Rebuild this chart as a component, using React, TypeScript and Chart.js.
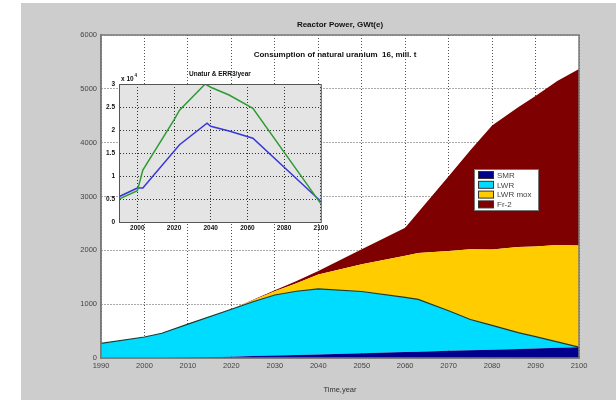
import React, { useEffect, useRef } from 'react';
import { Chart, registerables } from 'chart.js';
Chart.register(...registerables);

// ---- Main chart data (GWt(e)) ----
const years = [1990, 2000, 2004, 2010, 2020, 2025, 2030, 2035, 2040, 2050, 2060, 2063, 2070, 2075, 2080, 2086, 2090, 2095, 2100];
const smr = [0, 0, 0, 3, 25, 35, 45, 55, 65, 88, 110, 117, 133, 144, 155, 169, 178, 189, 200];
const lwr = [270, 390, 460, 627, 880, 1010, 1125, 1185, 1220, 1147, 1015, 973, 744, 572, 452, 301, 218, 111, 0];
const lwrMox = [0, 0, 0, 0, 0, 30, 70, 150, 265, 505, 775, 860, 1110, 1302, 1410, 1590, 1675, 1800, 1890];
const fr2 = [0, 0, 0, 0, 0, 5, 20, 40, 65, 280, 520, 758, 1390, 1842, 2300, 2600, 2795, 3045, 3280];
const seriesLabels = ['SMR', 'LWR', 'LWR mox', 'Fr-2'];
const seriesColors = ['#00008c', '#00dcff', '#ffcc00', '#7f0000'];
const mainTitle = 'Reactor Power, GWt(e)';
const subTitle = 'Consumption of natural uranium  16, mill. t';
const xTitle = 'Time,year';

// ---- Inset data (x 10^4 t / year) ----
const unaturYears = [1990, 2000, 2003, 2020, 2023, 2037, 2040, 2050, 2063, 2100];
const unatur = [0.5, 0.68, 1.13, 2.22, 2.43, 3.0, 2.93, 2.76, 2.47, 0.4];
const err3Years = [1990, 2000, 2003, 2023, 2038, 2040, 2050, 2063, 2100];
const err3 = [0.55, 0.74, 0.74, 1.68, 2.15, 2.08, 1.98, 1.82, 0.45];
const insetTitle = 'Unatur & ERR3/year';
const insetXTicks = [2000, 2020, 2040, 2060, 2080, 2100];
const insetYTicks = [0, 0.5, 1, 1.5, 2, 2.5, 3];

const FONT = '"Liberation Sans", Arial, sans-serif';

const toPts = (xs: number[], ys: number[]) => xs.map((x, i) => ({ x, y: ys[i] }));
const plain = (v: any) => String(v);

export default function App() {
  const mainRef = useRef<HTMLCanvasElement>(null);
  const insetRef = useRef<HTMLCanvasElement>(null);

  useEffect(() => {
    const mainPlugin = {
      id: 'mainDecor',
      beforeDraw(chart: any) {
        const { ctx, chartArea: a } = chart;
        ctx.save();
        ctx.fillStyle = '#ffffff';
        ctx.fillRect(a.left, a.top, a.right - a.left, a.bottom - a.top);
        ctx.restore();
      },
      afterDraw(chart: any) {
        const { ctx, chartArea: a } = chart;
        ctx.save();
        ctx.strokeStyle = '#7a7a7a';
        ctx.lineWidth = 1.5;
        ctx.strokeRect(a.left, a.top, a.right - a.left, a.bottom - a.top);
        ctx.fillStyle = '#111';
        ctx.font = `bold 8px ${FONT}`;
        ctx.textAlign = 'center';
        ctx.textBaseline = 'middle';
        ctx.fillText(subTitle, (a.left + a.right) / 2 - 5, a.top + 20);
        // legend
        const x0 = a.right - 105;
        const y0 = a.top + 134;
        ctx.fillStyle = '#ffffff';
        ctx.fillRect(x0, y0, 64, 41);
        ctx.strokeStyle = '#777';
        ctx.lineWidth = 1;
        ctx.strokeRect(x0 + 0.5, y0 + 0.5, 64, 41);
        ctx.textAlign = 'left';
        ctx.font = `8px ${FONT}`;
        chart.data.datasets.forEach((ds: any, i: number) => {
          const y = y0 + 6 + i * 9.8;
          ctx.fillStyle = ds.backgroundColor;
          ctx.fillRect(x0 + 4, y - 3.5, 15, 7);
          ctx.strokeStyle = '#333';
          ctx.strokeRect(x0 + 4.5, y - 3.5, 15, 7);
          ctx.fillStyle = '#444';
          ctx.fillText(ds.label, x0 + 23, y + 0.5);
        });
        ctx.restore();
      },
    };

    const series = [smr, lwr, lwrMox, fr2];
    const main = new Chart(mainRef.current!, {
      type: 'line',
      data: {
        datasets: series.map((vals, i) => ({
          label: seriesLabels[i],
          data: toPts(years, vals),
          backgroundColor: seriesColors[i],
          borderColor: i === 1 ? '#203a30' : seriesColors[i],
          borderWidth: i === 1 ? 1.2 : 0,
          fill: i === 0 ? 'origin' : '-1',
          pointRadius: 0,
          tension: 0,
        })),
      },
      options: {
        animation: false,
        responsive: false,
        layout: { padding: { left: 0, right: 37, top: 0, bottom: 0 } },
        plugins: {
          legend: { display: false },
          tooltip: { enabled: false },
          title: {
            display: true,
            text: mainTitle,
            fullSize: false,
            color: '#111',
            font: { family: FONT, size: 8, weight: 'bold' },
            padding: { top: 20, bottom: 5.4 },
          },
        },
        scales: {
          x: {
            type: 'linear',
            min: 1990,
            max: 2100,
            ticks: { stepSize: 10, callback: plain, color: '#444', font: { family: FONT, size: 7.5 }, padding: 3, maxRotation: 0, autoSkip: false },
            grid: { color: '#555', drawTicks: false, lineWidth: 1 },
            border: { display: true, color: '#7a7a7a', width: 1.5, dash: [1, 2] },
            title: { display: true, text: xTitle, color: '#333', font: { family: FONT, size: 7.5 }, padding: { top: 10, bottom: 5.5 } },
            afterFit: (s: any) => { s.height = 42; },
          },
          y: {
            stacked: true,
            min: 0,
            max: 6000,
            ticks: { stepSize: 1000, callback: plain, color: '#444', font: { family: FONT, size: 7.5 }, padding: 4 },
            grid: { color: '#555', drawTicks: false, lineWidth: 1 },
            border: { display: true, color: '#7a7a7a', width: 1.5, dash: [1, 2] },
            afterFit: (s: any) => { s.width = 101; },
          },
        },
      },
      plugins: [mainPlugin],
    });

    const insetPlugin = {
      id: 'insetDecor',
      beforeDraw(chart: any) {
        const { ctx, chartArea: a } = chart;
        ctx.save();
        ctx.fillStyle = '#e4e4e4';
        ctx.fillRect(a.left, a.top, a.right - a.left, a.bottom - a.top);
        ctx.restore();
      },
      afterDraw(chart: any) {
        const { ctx, chartArea: a } = chart;
        ctx.save();
        ctx.strokeStyle = '#555';
        ctx.lineWidth = 1;
        ctx.strokeRect(a.left + 0.5, a.top + 0.5, a.right - a.left, a.bottom - a.top);
        ctx.fillStyle = '#111';
        ctx.font = `bold 6.5px ${FONT}`;
        ctx.textAlign = 'center';
        ctx.textBaseline = 'middle';
        ctx.fillText(insetTitle, (a.left + a.right) / 2, a.top - 10);
        ctx.textAlign = 'left';
        ctx.fillText('x 10', a.left + 2, a.top - 5);
        ctx.font = `bold 4.5px ${FONT}`;
        ctx.fillText('4', a.left + 15.5, a.top - 8);
        ctx.restore();
      },
    };

    const inset = new Chart(insetRef.current!, {
      type: 'line',
      data: {
        datasets: [
          { label: 'Unatur', data: toPts(unaturYears, unatur), borderColor: '#2f9a36', borderWidth: 1.5, pointRadius: 0, tension: 0, fill: false },
          { label: 'ERR3', data: toPts(err3Years, err3), borderColor: '#3838d8', borderWidth: 1.5, pointRadius: 0, tension: 0, fill: false },
        ],
      },
      options: {
        animation: false,
        responsive: false,
        layout: { padding: { left: 0, right: 9, top: 24, bottom: 0 } },
        plugins: { legend: { display: false }, tooltip: { enabled: false }, title: { display: false } },
        scales: {
          x: {
            type: 'linear',
            min: 1990,
            max: 2100,
            afterBuildTicks: (s: any) => { s.ticks = insetXTicks.map((v) => ({ value: v })); },
            ticks: { callback: plain, color: '#111', font: { family: FONT, size: 6.5, weight: 'bold' }, padding: 2, maxRotation: 0, autoSkip: false },
            grid: { color: '#333', drawTicks: false },
            border: { display: true, color: '#555', dash: [1, 2] },
            afterFit: (s: any) => { s.height = 13; },
          },
          y: {
            min: 0,
            max: 3,
            afterBuildTicks: (s: any) => { s.ticks = insetYTicks.map((v) => ({ value: v })); },
            ticks: { callback: plain, color: '#111', font: { family: FONT, size: 6.5, weight: 'bold' }, padding: 4, autoSkip: false },
            grid: { color: '#333', drawTicks: false },
            border: { display: true, color: '#555', dash: [1, 2] },
            afterFit: (s: any) => { s.width = 24; },
          },
        },
      },
      plugins: [insetPlugin],
    });

    return () => {
      main.destroy();
      inset.destroy();
    };
  }, []);

  return (
    <div style={{ position: 'absolute', left: 0, top: 0, width: 616, height: 400, background: '#ffffff', overflow: 'hidden' }}>
      <div style={{ position: 'absolute', left: 21, top: 3, width: 595, height: 397, background: '#cdcdcd' }} />
      <canvas ref={mainRef} width={616} height={400} style={{ position: 'absolute', left: 0, top: 0, width: 616, height: 400 }} />
      <canvas ref={insetRef} width={235} height={175} style={{ position: 'absolute', left: 95, top: 60, width: 235, height: 175 }} />
    </div>
  );
}
